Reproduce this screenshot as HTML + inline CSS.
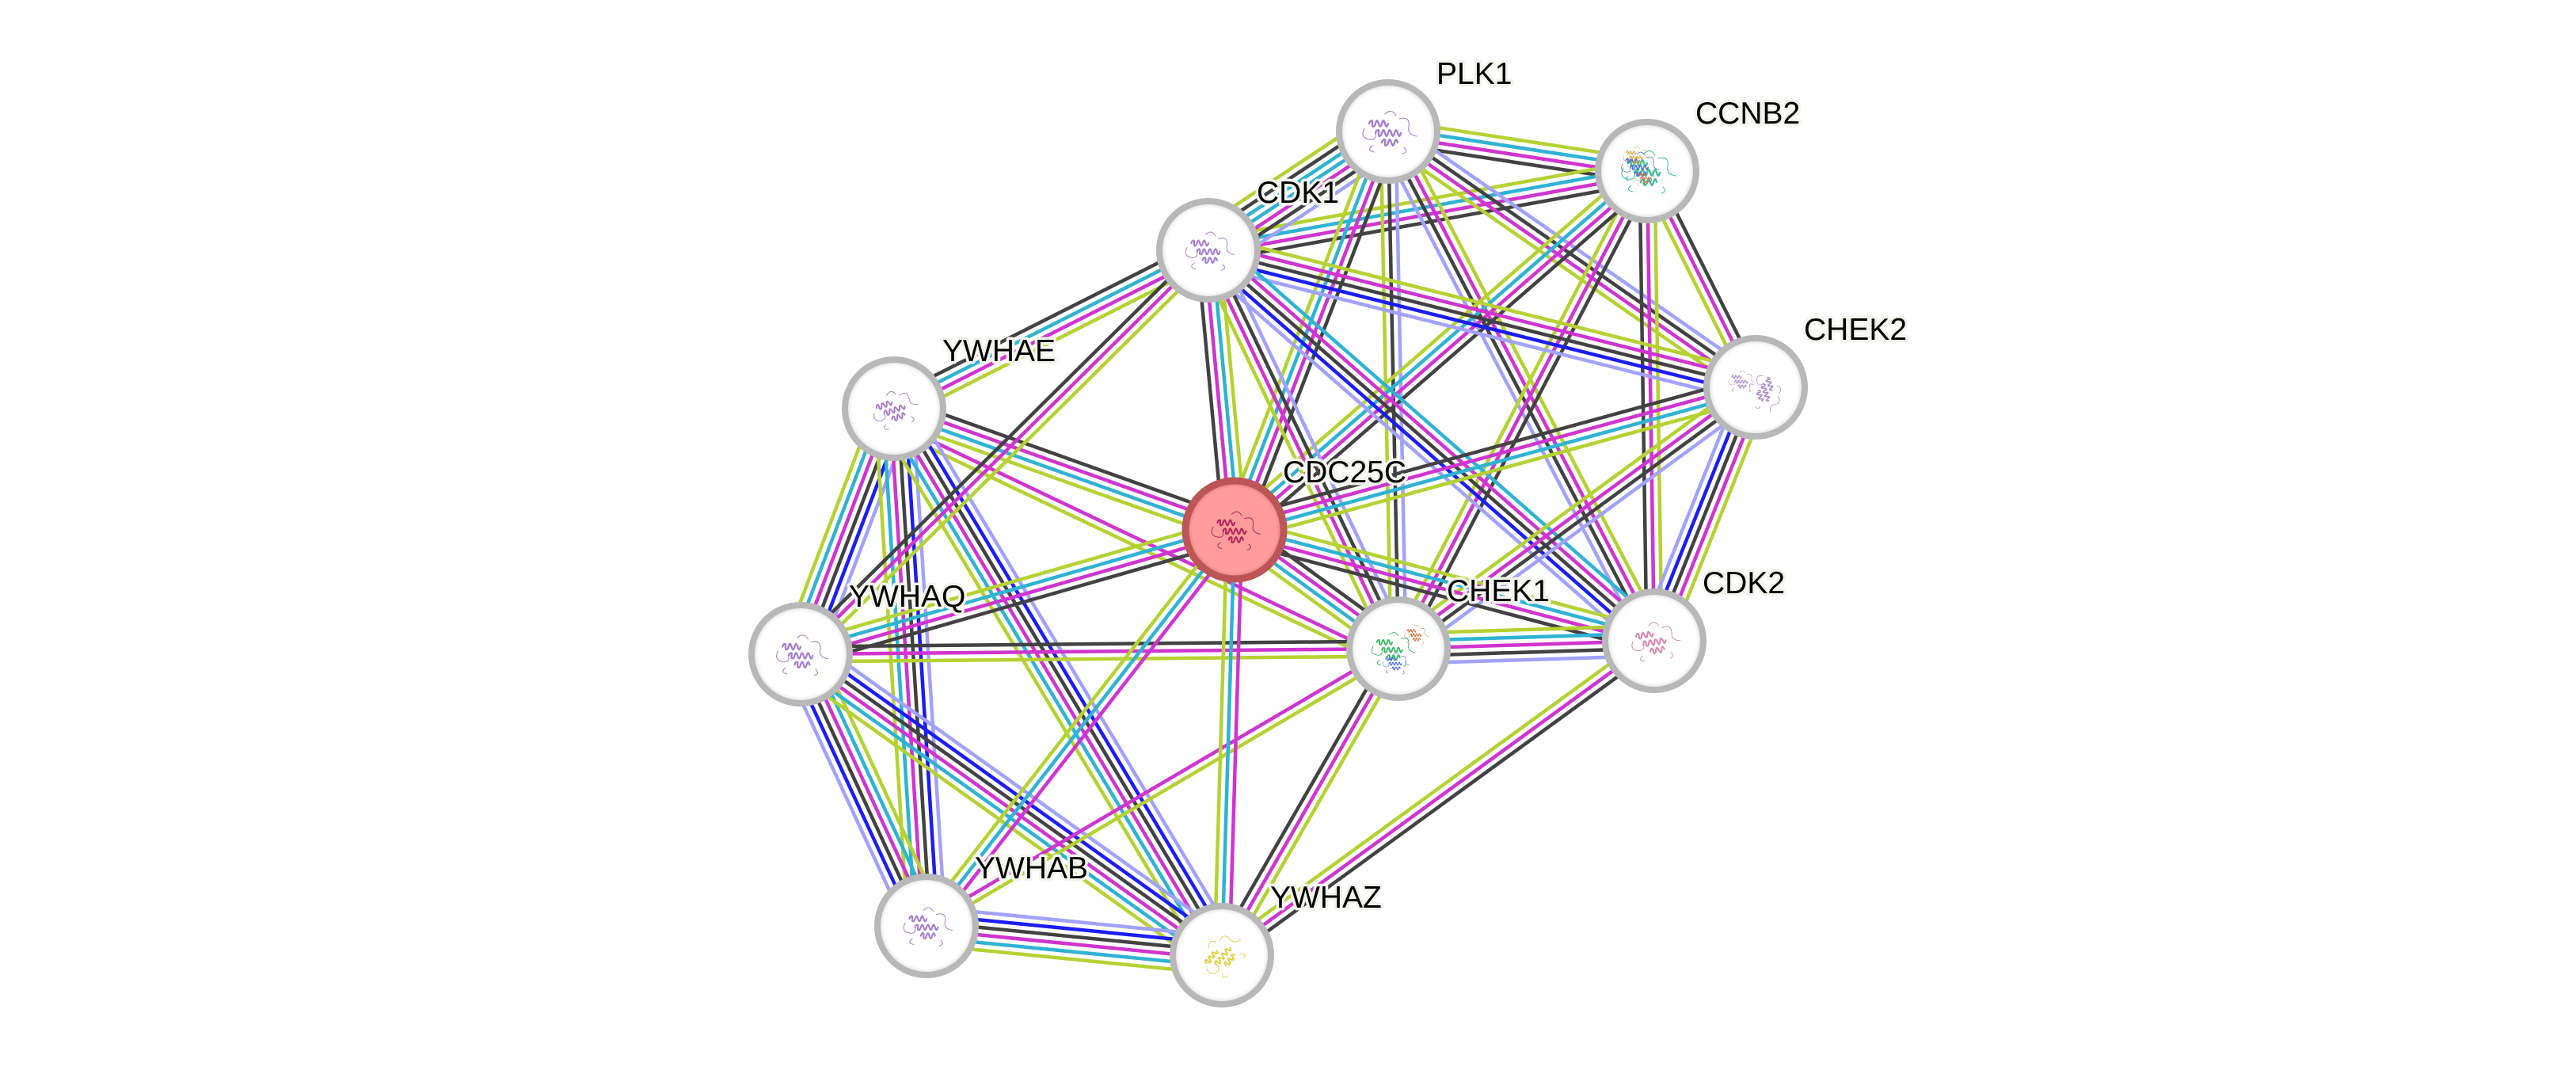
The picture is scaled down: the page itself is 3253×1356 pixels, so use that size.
<!DOCTYPE html>
<html><head><meta charset="utf-8"><style>
html,body{margin:0;padding:0;background:#fff}
svg{display:block}
line{stroke-width:4.5;vector-effect:non-scaling-stroke}
.y{stroke:#b5d232}.c{stroke:#2fb3d3}.m{stroke:#d034d0}.k{stroke:#424242}.b{stroke:#1c1cf6}.l{stroke:#a2a2fb}
text{font-family:"Liberation Sans",Arial,sans-serif;font-size:39px;fill:#000;stroke:#f4f4ef;stroke-width:7px;paint-order:stroke;stroke-linejoin:round}
</style></head><body>
<svg xmlns="http://www.w3.org/2000/svg" width="3253" height="1356" viewBox="0 0 3253 1356">
<defs>
<radialGradient id="ng"><stop offset="0.86" stop-color="#ffffff"/><stop offset="1" stop-color="#d6d6d6"/></radialGradient>
<radialGradient id="pg"><stop offset="0.86" stop-color="#ff9b9b"/><stop offset="1" stop-color="#d97474"/></radialGradient>
<g id="pr" fill="none" stroke="currentColor" stroke-linecap="round">
<path stroke-width="2.4" d="M-24,-10 c1.5,-5 5,-5 4,0 s2.5,5 4,0 s2.5,-5 4,0 s2.5,5 4,0 s2.5,-5 4,0 s2.5,5 4,0"/>
<path stroke-width="2.4" d="M-16,2 c1.5,-5 5,-5 4,0 s2.5,5 4,0 s2.5,-5 4,0 s2.5,5 4,0 s2.5,-5 4,0 s2.5,5 4,0 s2.5,-5 4,0 s2.5,5 4,0"/>
<path stroke-width="2.4" d="M-8,14 c1.5,-5 5,-5 4,0 s2.5,5 4,0 s2.5,-5 4,0 s2.5,5 4,0 s2.5,-5 4,0"/>
<path stroke-width="1.1" d="M-30,-4 q-6,12 6,14 q10,2 8,-10 M14,-16 q14,-4 12,10 q-2,10 10,12 M-4,-22 q8,-8 14,2 M-20,18 q-8,6 2,8 M20,20 q6,6 -2,8"/>
</g>
</defs>

<!-- edges -->
<g transform="matrix(327 50 -0.151 0.989 1753 166)"><line class="y" x2="1" y1="-14.25" y2="-14.25"/><line class="c" x2="1" y1="-4.75" y2="-4.75"/><line class="m" x2="1" y1="4.75" y2="4.75"/><line class="k" x2="1" y1="14.25" y2="14.25"/></g>
<g transform="matrix(554 -100 0.178 0.984 1526 316)"><line class="y" x2="1" y1="-14.25" y2="-14.25"/><line class="c" x2="1" y1="-4.75" y2="-4.75"/><line class="m" x2="1" y1="4.75" y2="4.75"/><line class="k" x2="1" y1="14.25" y2="14.25"/></g>
<g transform="matrix(227 -150 0.551 0.834 1526 316)"><line class="y" x2="1" y1="-28.5" y2="-28.5"/><line class="k" x2="1" y1="-19" y2="-19"/><line class="c" x2="1" y1="-9.5" y2="-9.5"/><line class="c" x2="1" y1="0" y2="0"/><line class="m" x2="1" y1="9.5" y2="9.5"/><line class="k" x2="1" y1="19" y2="19"/><line class="l" x2="1" y1="28.5" y2="28.5"/></g>
<g transform="matrix(397 -200 0.450 0.893 1129 516)"><line class="k" x2="1" y1="-14.25" y2="-14.25"/><line class="c" x2="1" y1="-4.75" y2="-4.75"/><line class="m" x2="1" y1="4.75" y2="4.75"/><line class="y" x2="1" y1="14.25" y2="14.25"/></g>
<g transform="matrix(464 323 -0.571 0.821 1753 166)"><line class="l" x2="1" y1="-14.25" y2="-14.25"/><line class="k" x2="1" y1="-4.75" y2="-4.75"/><line class="m" x2="1" y1="4.75" y2="4.75"/><line class="y" x2="1" y1="14.25" y2="14.25"/></g>
<g transform="matrix(336 643 -0.886 0.463 1753 166)"><line class="y" x2="1" y1="-14.25" y2="-14.25"/><line class="m" x2="1" y1="-4.75" y2="-4.75"/><line class="k" x2="1" y1="4.75" y2="4.75"/><line class="l" x2="1" y1="14.25" y2="14.25"/></g>
<g transform="matrix(13 653 -1 0.02 1753 166)"><line class="l" x2="1" y1="-9.5" y2="-9.5"/><line class="k" x2="1" y1="0" y2="0"/><line class="y" x2="1" y1="9.5" y2="9.5"/></g>
<g transform="matrix(-194 503 -0.933 -0.360 1753 166)"><line class="k" x2="1" y1="-14.25" y2="-14.25"/><line class="m" x2="1" y1="-4.75" y2="-4.75"/><line class="c" x2="1" y1="4.75" y2="4.75"/><line class="y" x2="1" y1="14.25" y2="14.25"/></g>
<g transform="matrix(137 273 -0.894 0.449 2080 216)"><line class="k" x2="1" y1="-9.5" y2="-9.5"/><line class="m" x2="1" y1="0" y2="0"/><line class="y" x2="1" y1="9.5" y2="9.5"/></g>
<g transform="matrix(9 593 -1 0.015 2080 216)"><line class="y" x2="1" y1="-9.5" y2="-9.5"/><line class="m" x2="1" y1="0" y2="0"/><line class="k" x2="1" y1="9.5" y2="9.5"/></g>
<g transform="matrix(-314 603 -0.887 -0.462 2080 216)"><line class="k" x2="1" y1="-9.5" y2="-9.5"/><line class="m" x2="1" y1="0" y2="0"/><line class="y" x2="1" y1="9.5" y2="9.5"/></g>
<g transform="matrix(-521 453 -0.656 -0.755 2080 216)"><line class="k" x2="1" y1="-14.25" y2="-14.25"/><line class="m" x2="1" y1="-4.75" y2="-4.75"/><line class="c" x2="1" y1="4.75" y2="4.75"/><line class="y" x2="1" y1="14.25" y2="14.25"/></g>
<g transform="matrix(691 173 -0.243 0.970 1526 316)"><line class="y" x2="1" y1="-19" y2="-19"/><line class="m" x2="1" y1="-9.5" y2="-9.5"/><line class="k" x2="1" y1="0" y2="0"/><line class="b" x2="1" y1="9.5" y2="9.5"/><line class="l" x2="1" y1="19" y2="19"/></g>
<g transform="matrix(563 493 -0.659 0.752 1526 316)"><line class="c" x2="1" y1="-19" y2="-19"/><line class="m" x2="1" y1="-9.5" y2="-9.5"/><line class="k" x2="1" y1="0" y2="0"/><line class="b" x2="1" y1="9.5" y2="9.5"/><line class="l" x2="1" y1="19" y2="19"/></g>
<g transform="matrix(240 503 -0.903 0.431 1526 316)"><line class="l" x2="1" y1="-14.25" y2="-14.25"/><line class="k" x2="1" y1="-4.75" y2="-4.75"/><line class="m" x2="1" y1="4.75" y2="4.75"/><line class="y" x2="1" y1="14.25" y2="14.25"/></g>
<g transform="matrix(33 353 -0.996 0.093 1526 316)"><line class="y" x2="1" y1="-14.25" y2="-14.25"/><line class="c" x2="1" y1="-4.75" y2="-4.75"/><line class="m" x2="1" y1="4.75" y2="4.75"/><line class="k" x2="1" y1="14.25" y2="14.25"/></g>
<g transform="matrix(658 -180 0.264 0.965 1559 669)"><line class="k" x2="1" y1="-14.25" y2="-14.25"/><line class="m" x2="1" y1="-4.75" y2="-4.75"/><line class="c" x2="1" y1="4.75" y2="4.75"/><line class="y" x2="1" y1="14.25" y2="14.25"/></g>
<g transform="matrix(451 -330 0.591 0.807 1766 819)"><line class="y" x2="1" y1="-14.25" y2="-14.25"/><line class="m" x2="1" y1="-4.75" y2="-4.75"/><line class="k" x2="1" y1="4.75" y2="4.75"/><line class="l" x2="1" y1="14.25" y2="14.25"/></g>
<g transform="matrix(-128 320 -0.928 -0.371 2217 489)"><line class="y" x2="1" y1="-19" y2="-19"/><line class="m" x2="1" y1="-9.5" y2="-9.5"/><line class="k" x2="1" y1="0" y2="0"/><line class="b" x2="1" y1="9.5" y2="9.5"/><line class="l" x2="1" y1="19" y2="19"/></g>
<g transform="matrix(207 150 -0.587 0.810 1559 669)"><line class="k" x2="1" y1="-14.25" y2="-14.25"/><line class="m" x2="1" y1="-4.75" y2="-4.75"/><line class="c" x2="1" y1="4.75" y2="4.75"/><line class="y" x2="1" y1="14.25" y2="14.25"/></g>
<g transform="matrix(530 140 -0.255 0.967 1559 669)"><line class="y" x2="1" y1="-14.25" y2="-14.25"/><line class="c" x2="1" y1="-4.75" y2="-4.75"/><line class="m" x2="1" y1="4.75" y2="4.75"/><line class="k" x2="1" y1="14.25" y2="14.25"/></g>
<g transform="matrix(323 -10 0.031 1 1766 819)"><line class="y" x2="1" y1="-19" y2="-19"/><line class="c" x2="1" y1="-9.5" y2="-9.5"/><line class="m" x2="1" y1="0" y2="0"/><line class="k" x2="1" y1="9.5" y2="9.5"/><line class="l" x2="1" y1="19" y2="19"/></g>
<g transform="matrix(430 153 -0.335 0.942 1129 516)"><line class="k" x2="1" y1="-14.25" y2="-14.25"/><line class="m" x2="1" y1="-4.75" y2="-4.75"/><line class="c" x2="1" y1="4.75" y2="4.75"/><line class="y" x2="1" y1="14.25" y2="14.25"/></g>
<g transform="matrix(637 303 -0.430 0.903 1129 516)"><line class="m" x2="1" y1="16" y2="16"/><line class="y" x2="1" y1="25.5" y2="25.5"/></g>
<g transform="matrix(-118 310 -0.935 -0.356 1129 516)"><line class="l" x2="1" y1="-23.75" y2="-23.75"/><line class="b" x2="1" y1="-14.25" y2="-14.25"/><line class="k" x2="1" y1="-4.75" y2="-4.75"/><line class="m" x2="1" y1="4.75" y2="4.75"/><line class="c" x2="1" y1="14.25" y2="14.25"/><line class="y" x2="1" y1="23.75" y2="23.75"/></g>
<g transform="matrix(41 653 -0.998 0.063 1129 516)"><line class="l" x2="1" y1="-23.75" y2="-23.75"/><line class="b" x2="1" y1="-14.25" y2="-14.25"/><line class="k" x2="1" y1="-4.75" y2="-4.75"/><line class="m" x2="1" y1="4.75" y2="4.75"/><line class="c" x2="1" y1="14.25" y2="14.25"/><line class="y" x2="1" y1="23.75" y2="23.75"/></g>
<g transform="matrix(414 690 -0.857 0.514 1129 516)"><line class="l" x2="1" y1="-23.75" y2="-23.75"/><line class="b" x2="1" y1="-14.25" y2="-14.25"/><line class="k" x2="1" y1="-4.75" y2="-4.75"/><line class="m" x2="1" y1="4.75" y2="4.75"/><line class="c" x2="1" y1="14.25" y2="14.25"/><line class="y" x2="1" y1="23.75" y2="23.75"/></g>
<g transform="matrix(515 -510 0.704 0.711 1011 826)"><line class="k" x2="1" y1="-9.5" y2="-9.5"/><line class="m" x2="1" y1="0" y2="0"/><line class="y" x2="1" y1="9.5" y2="9.5"/></g>
<g transform="matrix(548 -157 0.275 0.961 1011 826)"><line class="y" x2="1" y1="-14.25" y2="-14.25"/><line class="c" x2="1" y1="-4.75" y2="-4.75"/><line class="m" x2="1" y1="4.75" y2="4.75"/><line class="k" x2="1" y1="14.25" y2="14.25"/></g>
<g transform="matrix(755 -7 0.009 1 1011 826)"><line class="k" x2="1" y1="-9.5" y2="-9.5"/><line class="m" x2="1" y1="0" y2="0"/><line class="y" x2="1" y1="9.5" y2="9.5"/></g>
<g transform="matrix(159 343 -0.907 0.421 1011 826)"><line class="y" x2="1" y1="-23.75" y2="-23.75"/><line class="c" x2="1" y1="-14.25" y2="-14.25"/><line class="m" x2="1" y1="-4.75" y2="-4.75"/><line class="k" x2="1" y1="4.75" y2="4.75"/><line class="b" x2="1" y1="14.25" y2="14.25"/><line class="l" x2="1" y1="23.75" y2="23.75"/></g>
<g transform="matrix(532 380 -0.581 0.814 1011 826)"><line class="l" x2="1" y1="-23.75" y2="-23.75"/><line class="b" x2="1" y1="-14.25" y2="-14.25"/><line class="k" x2="1" y1="-4.75" y2="-4.75"/><line class="m" x2="1" y1="4.75" y2="4.75"/><line class="c" x2="1" y1="14.25" y2="14.25"/><line class="y" x2="1" y1="23.75" y2="23.75"/></g>
<g transform="matrix(373 37 -0.099 0.995 1170 1169)"><line class="l" x2="1" y1="-23.75" y2="-23.75"/><line class="b" x2="1" y1="-14.25" y2="-14.25"/><line class="k" x2="1" y1="-4.75" y2="-4.75"/><line class="m" x2="1" y1="4.75" y2="4.75"/><line class="c" x2="1" y1="14.25" y2="14.25"/><line class="y" x2="1" y1="23.75" y2="23.75"/></g>
<g transform="matrix(389 -500 0.789 0.614 1170 1169)"><line class="y" x2="1" y1="-9.5" y2="-9.5"/><line class="c" x2="1" y1="0" y2="0"/><line class="m" x2="1" y1="9.5" y2="9.5"/></g>
<g transform="matrix(596 -350 0.506 0.862 1170 1169)"><line class="m" x2="1" y1="-4.75" y2="-4.75"/><line class="y" x2="1" y1="4.75" y2="4.75"/></g>
<g transform="matrix(-16 537 -1 -0.03 1559 669)"><line class="m" x2="1" y1="-9.5" y2="-9.5"/><line class="c" x2="1" y1="0" y2="0"/><line class="y" x2="1" y1="9.5" y2="9.5"/></g>
<g transform="matrix(-223 387 -0.866 -0.499 1766 819)"><line class="y" x2="1" y1="-9.5" y2="-9.5"/><line class="m" x2="1" y1="0" y2="0"/><line class="k" x2="1" y1="9.5" y2="9.5"/></g>
<g transform="matrix(546 -397 0.588 0.809 1543 1206)"><line class="y" x2="1" y1="-9.5" y2="-9.5"/><line class="m" x2="1" y1="0" y2="0"/><line class="k" x2="1" y1="9.5" y2="9.5"/></g>

<!-- nodes -->
<g transform="translate(1753,166)"><circle r="62" fill="url(#ng)" stroke="#b8b8b8" stroke-width="8"/><use href="#pr" color="#a57ed0"/></g>
<g transform="translate(2080,216)"><circle r="62" fill="url(#ng)" stroke="#b8b8b8" stroke-width="8"/><use href="#pr" color="#3cc4a0"/><use href="#pr" color="#4a6fd8" transform="translate(-10,-6) scale(0.7)"/><use href="#pr" color="#d8a838" transform="translate(-14,-18) scale(0.5)"/><use href="#pr" color="#e06a40" transform="translate(-2,8) scale(0.4)"/></g>
<g transform="translate(1526,316)"><circle r="62" fill="url(#ng)" stroke="#b8b8b8" stroke-width="8"/><use href="#pr" color="#a57ed0" transform="scale(0.9)"/></g>
<g transform="translate(2217,489)"><circle r="62" fill="url(#ng)" stroke="#b8b8b8" stroke-width="8"/><use href="#pr" color="#a98ad0" transform="translate(-18,-8) scale(0.5)"/><use href="#pr" color="#a98ad0" transform="translate(14,6) rotate(70) scale(0.7)"/></g>
<g transform="translate(1129,516)"><circle r="62" fill="url(#ng)" stroke="#b8b8b8" stroke-width="8"/><use href="#pr" color="#a57ed0" transform="rotate(-20) scale(0.85)"/></g>
<g transform="translate(1559,669)"><circle r="62" fill="url(#pg)" stroke="#bc5656" stroke-width="9"/><use href="#pr" color="#b0285c" transform="scale(0.9)"/></g>
<g transform="translate(1011,826)"><circle r="62" fill="url(#ng)" stroke="#b8b8b8" stroke-width="8"/><use href="#pr" color="#a57ed0" transform="scale(0.95)"/></g>
<g transform="translate(1766,819)"><circle r="62" fill="url(#ng)" stroke="#b8b8b8" stroke-width="8"/><use href="#pr" color="#38b860" transform="translate(-8,0) scale(0.8)"/><use href="#pr" color="#4a6fd8" transform="translate(-4,18) scale(0.5)"/><use href="#pr" color="#e06a30" transform="translate(22,-18) scale(0.45)"/></g>
<g transform="translate(2089,809)"><circle r="62" fill="url(#ng)" stroke="#b8b8b8" stroke-width="8"/><use href="#pr" color="#d88ab0" transform="rotate(-10) scale(0.9)"/></g>
<g transform="translate(1170,1169)"><circle r="62" fill="url(#ng)" stroke="#b8b8b8" stroke-width="8"/><use href="#pr" color="#a57ed0" transform="scale(0.9)"/></g>
<g transform="translate(1543,1206)"><circle r="62" fill="url(#ng)" stroke="#b8b8b8" stroke-width="8"/><use href="#pr" color="#e0d040" transform="rotate(-50) scale(0.85)"/></g>

<!-- labels -->
<text x="1814" y="106">PLK1</text>
<text x="2141" y="156">CCNB2</text>
<text x="1587" y="256">CDK1</text>
<text x="2278" y="429">CHEK2</text>
<text x="1190" y="456">YWHAE</text>
<text x="1620" y="609">CDC25C</text>
<text x="1072" y="766">YWHAQ</text>
<text x="1827" y="759">CHEK1</text>
<text x="2150" y="749">CDK2</text>
<text x="1231" y="1109">YWHAB</text>
<text x="1604" y="1146">YWHAZ</text>
</svg>
</body></html>
